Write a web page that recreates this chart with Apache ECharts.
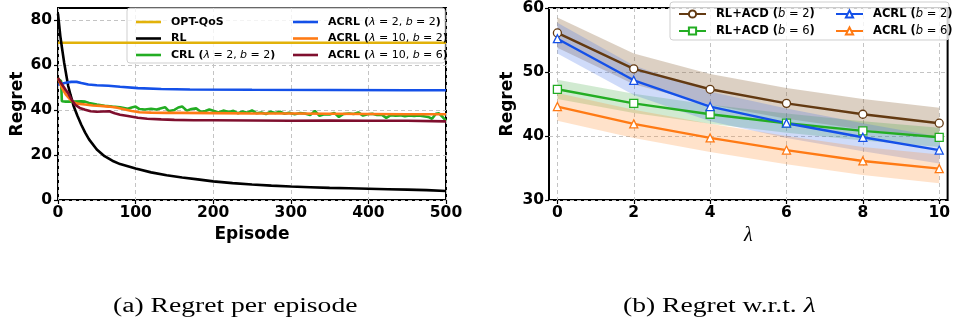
<!DOCTYPE html>
<html>
<head>
<meta charset="utf-8">
<script src="https://cdn.jsdelivr.net/npm/echarts@6/dist/echarts.min.js"></script>
<style>
  html, body { margin: 0; padding: 0; background: #fff; }
  #main { width: 953px; height: 326px; }
</style>
</head>
<body>
<div id="main"></div>
<script>
// ---- (a) regret per episode ----
const optEp = [0, 500]
const optVal = [70, 70]

const rlEp = [0, 3, 5, 8, 10, 13, 16, 20, 25, 30, 35, 40, 50, 60, 70, 80, 90, 100, 120, 140, 160, 180, 200, 225, 250, 275, 300, 325, 350, 375, 400, 425, 450, 475, 500]
const rlVal = [83, 73, 68, 61, 57, 51, 47, 42, 37.5, 33.5, 30, 27, 22.5, 19.5, 17.5, 16, 15, 14, 12.3, 11, 10, 9.2, 8.3, 7.5, 6.9, 6.4, 6.0, 5.7, 5.4, 5.2, 5.0, 4.8, 4.6, 4.4, 4.0]

const crlEp = [0, 4, 5, 10, 20, 30, 35, 40, 50, 60, 70, 80, 90, 95, 100, 105, 112, 120, 127, 133, 138, 143, 150, 155, 160, 166, 172, 178, 184, 190, 195, 200, 207, 213, 220, 226, 232, 238, 244, 250, 256, 262, 268, 274, 280, 286, 292, 298, 305, 312, 318, 325, 331, 337, 343, 350, 356, 362, 368, 375, 381, 387, 393, 399, 405, 411, 417, 423, 429, 435, 441, 447, 453, 459, 465, 471, 477, 482, 487, 491, 495, 500]
const crlVal = [54, 53, 44, 43.8, 43.8, 43.9, 43.8, 43.2, 42.5, 42.0, 41.6, 41.3, 40.6, 41.2, 41.6, 40.5, 40.3, 40.6, 40.3, 40.9, 41.3, 39.6, 40.1, 41.2, 41.6, 39.8, 40.5, 40.8, 39.3, 39.6, 40.3, 39.7, 39.0, 39.8, 39.2, 39.7, 38.6, 39.4, 38.9, 39.9, 38.6, 39.0, 38.3, 39.3, 38.7, 39.3, 38.4, 38.9, 38.2, 38.7, 38.5, 37.8, 39.7, 37.5, 38.2, 38.1, 38.8, 37.0, 38.3, 38.5, 38.3, 39.0, 37.6, 38.2, 38.4, 37.9, 38.0, 36.6, 37.8, 37.5, 37.7, 37.3, 37.6, 37.4, 37.6, 37.3, 37.0, 36.2, 38.4, 38.6, 37.2, 35.2]

const acrl22Ep = [0, 5, 10, 17, 24, 30, 39, 50, 65, 80, 103, 133, 170, 250, 350, 450, 500]
const acrl22Val = [51.3, 51.8, 52.2, 52.6, 52.6, 52.1, 51.4, 51.1, 50.9, 50.4, 49.8, 49.4, 49.2, 49.1, 49.0, 48.9, 48.9]

const acrl102Ep = [0, 5, 10, 15, 20, 25, 35, 45, 55, 65, 75, 85, 95, 105, 120, 140, 160, 200, 250, 300, 350, 400, 450, 500]
const acrl102Val = [54.3, 50, 47, 45, 43.5, 42.9, 42.5, 42.1, 41.9, 41.6, 41.2, 40.4, 39.6, 39.1, 38.9, 38.8, 38.8, 38.7, 38.5, 38.5, 38.4, 38.3, 38.2, 38.2]

const acrl106Ep = [0, 5, 10, 13, 17, 22, 28, 35, 42, 50, 58, 66, 73, 80, 90, 103, 115, 133, 150, 175, 200, 250, 300, 350, 400, 450, 500]
const acrl106Val = [54.3, 51.5, 49, 47.6, 45, 42.4, 41, 40.2, 39.5, 39.3, 39.4, 39.5, 38.6, 38.0, 37.4, 36.6, 36.2, 35.9, 35.7, 35.5, 35.5, 35.4, 35.3, 35.4, 35.3, 35.3, 35.0]

const yTicksA = [0, 20, 40, 60, 80]

// ---- (b) regret vs lambda ----
const lambdas = [0, 2, 4, 6, 8, 10]
const acd2Mean = [56.1, 50.5, 47.3, 45.1, 43.4, 42.0]
const acd2Lo = [53.8, 48.1, 44.9, 42.7, 41.0, 39.6]
const acd2Hi = [58.5, 52.9, 49.7, 47.5, 45.8, 44.4]
const acd6Mean = [47.3, 45.1, 43.4, 42.0, 40.8, 39.8]
const acd6Lo = [45.8, 43.6, 41.9, 40.5, 39.3, 38.3]
const acd6Hi = [48.8, 46.6, 44.9, 43.5, 42.3, 41.3]
const acrlB2Mean = [55.2, 48.7, 44.6, 42.0, 39.8, 37.8]
const acrlB2Lo = [52.9, 46.4, 42.3, 39.7, 37.6, 35.7]
const acrlB2Hi = [57.7, 51.0, 46.9, 44.3, 42.0, 39.9]
const acrlB6Mean = [44.6, 41.9, 39.7, 37.8, 36.1, 34.9]
const acrlB6Lo = [42.4, 39.7, 37.5, 35.6, 33.9, 32.6]
const acrlB6Hi = [46.7, 44.1, 41.9, 40.0, 38.3, 37.1]

const xTicksB = [0, 2, 4, 6, 8, 10]

const zip = (xs, ys) => xs.map((x, i) => [x, ys[i]])

const chart = echarts.init(document.getElementById('main'))

const tickFont = { fontFamily: 'DejaVu Sans', fontWeight: 'bold', fontSize: 15.5, color: '#000' }
const nameFont = { fontFamily: 'DejaVu Sans', fontWeight: 'bold', fontSize: 17, color: '#000' }
const gridLine = { show: true, lineStyle: { color: '#c4c4c4', type: [4, 3], width: 1 } }
const tick = { show: true, inside: false, length: 4, lineStyle: { color: '#000', width: 1.2 } }
const lineIcon = 'path://M0,0 L25,0 L25,2.6 L0,2.6 Z'

// legend label: bold name, italic symbols
function legendFmt(name) {
  const m = name.match(/^(\S+) \((.*)\)$/)
  if (!m) return '{b|' + name + '}'
  const parts = m[2].split(', ').map(p => {
    const [s, v] = p.split('=')
    return '{i|' + s + '}{n| = ' + v + '}'
  })
  return '{b|' + m[1] + ' (}' + parts.join('{n|, }') + '{b|)}'
}
function legendText(size) {
  return {
    color: '#000',
    lineHeight: 14,
    padding: [0, 0, 0, 5],
    rich: {
      b: { fontFamily: 'DejaVu Sans', fontWeight: 'bold', fontSize: size, color: '#000' },
      i: { fontFamily: 'DejaVu Sans', fontStyle: 'italic', fontSize: size, color: '#000' },
      n: { fontFamily: 'DejaVu Sans', fontSize: size, color: '#000' }
    }
  }
}
function legendBox(left, top, names, w, h, gap, size, icon) {
  const lg = {
    orient: 'vertical', left: left, top: top, data: names,
    itemWidth: w, itemHeight: h, itemGap: gap,
    formatter: legendFmt, textStyle: legendText(size), selectedMode: false
  }
  if (icon) lg.icon = icon
  return lg
}

function lineA(name, ep, val, color) {
  return {
    name: name, type: 'line', xAxisIndex: 0, yAxisIndex: 0,
    data: zip(ep, val), symbol: 'none', z: 3,
    lineStyle: { color: color, width: 2.6 }, itemStyle: { color: color }
  }
}
function lineB(name, mean, color, sym) {
  return {
    name: name, type: 'line', xAxisIndex: 1, yAxisIndex: 1,
    data: zip(lambdas, mean), symbol: sym, symbolSize: 8, z: 4,
    lineStyle: { color: color, width: 2.4 },
    itemStyle: { color: '#fff', borderColor: color, borderWidth: 1.3 }
  }
}
// shaded spread drawn as one polygon through the axis scales
function band(lo, hi, color, op) {
  return {
    type: 'custom', xAxisIndex: 1, yAxisIndex: 1, z: 1, silent: true, clip: true,
    data: lambdas.map((x, i) => [x, lo[i], hi[i]]),
    encode: { x: 0, y: [1, 2] },
    renderItem: function (params, api) {
      if (params.dataIndex !== 0) return null
      const top = lambdas.map((x, i) => api.coord([x, hi[i]]))
      const bot = lambdas.map((x, i) => api.coord([x, lo[i]])).reverse()
      return {
        type: 'polygon',
        shape: { points: top.concat(bot) },
        style: { fill: color, opacity: op }
      }
    }
  }
}

const cGold = '#e2b20a', cBlack = '#000', cGreen = '#23ad23', cBlue = '#1450e8', cOrange = '#ff7a14', cMaroon = '#7f0f2e'
const cBrown = '#633a12'
const capFont = '20px "Liberation Serif"'

chart.setOption({
  animation: false,
  backgroundColor: '#fff',
  grid: [
    { left: 58, top: 8, width: 388, height: 192, show: true, borderColor: '#000', borderWidth: 2, containLabel: false },
    { left: 549, top: 2, width: 401, height: 198, show: true, borderColor: '#000', borderWidth: 2, containLabel: false }
  ],
  xAxis: [
    {
      gridIndex: 0, type: 'value', min: 0, max: 500, interval: 100,
      name: 'Episode', nameLocation: 'middle', nameGap: 24, nameTextStyle: nameFont,
      axisLine: { show: false, onZero: false }, axisTick: tick,
      axisLabel: Object.assign({ margin: 5 }, tickFont), splitLine: gridLine
    },
    {
      gridIndex: 1, type: 'value', min: -0.22, max: 10.22,
      name: 'λ', nameLocation: 'middle', nameGap: 24,
      nameTextStyle: { fontFamily: 'Liberation Serif', fontStyle: 'italic', fontSize: 20, color: '#000' },
      axisLine: { show: false, onZero: false },
      axisTick: Object.assign({ customValues: xTicksB }, tick),
      axisLabel: Object.assign({ margin: 5, customValues: xTicksB }, tickFont),
      splitLine: gridLine
    }
  ],
  yAxis: [
    {
      gridIndex: 0, type: 'value', min: 0, max: 85.5,
      name: 'Regret', nameLocation: 'middle', nameGap: 31, nameTextStyle: nameFont,
      axisLine: { show: false, onZero: false },
      axisTick: Object.assign({ customValues: yTicksA }, tick),
      axisLabel: Object.assign({ margin: 6, customValues: yTicksA }, tickFont),
      splitLine: gridLine
    },
    {
      gridIndex: 1, type: 'value', min: 30, max: 60, interval: 10,
      name: 'Regret', nameLocation: 'middle', nameGap: 33, nameTextStyle: nameFont,
      axisLine: { show: false, onZero: false }, axisTick: tick,
      axisLabel: Object.assign({ margin: 5 }, tickFont), splitLine: gridLine
    }
  ],
  legend: [
    legendBox(131, 10, ['OPT-QoS', 'RL', 'CRL (λ=2, b=2)'], 25, 14, 2.5, 11, lineIcon),
    legendBox(288, 10, ['ACRL (λ=2, b=2)', 'ACRL (λ=10, b=2)', 'ACRL (λ=10, b=6)'], 25, 14, 2.5, 11, lineIcon),
    legendBox(673, 2, ['RL+ACD (b=2)', 'RL+ACD (b=6)'], 27, 9, 3, 11.5),
    legendBox(830, 2, ['ACRL (b=2)', 'ACRL (b=6)'], 27, 9, 3, 11.5)
  ],
  graphic: [
    {
      type: 'rect', z: 3, shape: { x: 127, y: 8, width: 318, height: 55, r: 3 },
      style: { fill: 'rgba(255,255,255,0.8)', stroke: '#cfcfcf', lineWidth: 1 }
    },
    {
      type: 'rect', z: 3, shape: { x: 670, y: 2, width: 279, height: 38, r: 3 },
      style: { fill: 'rgba(255,255,255,0.8)', stroke: '#cfcfcf', lineWidth: 1 }
    },
    {
      type: 'text', x: 113, y: 307, scaleX: 1.38,
      style: { text: '(a) Regret per episode', fill: '#000', font: capFont, verticalAlign: 'middle' }
    },
    {
      type: 'text', x: 623, y: 307, scaleX: 1.38,
      style: {
        text: '(b) Regret w.r.t. {l|λ}', fill: '#000', font: capFont, verticalAlign: 'middle',
        rich: { l: { fontFamily: 'Liberation Serif', fontStyle: 'italic', fontSize: 20, fill: '#000' } }
      }
    }
  ],
  series: [
    lineA('OPT-QoS', optEp, optVal, cGold),
    lineA('RL', rlEp, rlVal, cBlack),
    lineA('CRL (λ=2, b=2)', crlEp, crlVal, cGreen),
    lineA('ACRL (λ=2, b=2)', acrl22Ep, acrl22Val, cBlue),
    lineA('ACRL (λ=10, b=2)', acrl102Ep, acrl102Val, cOrange),
    lineA('ACRL (λ=10, b=6)', acrl106Ep, acrl106Val, cMaroon),
    band(acd2Lo, acd2Hi, '#8c6239', 0.3),
    band(acd6Lo, acd6Hi, '#2ca02c', 0.22),
    band(acrlB2Lo, acrlB2Hi, '#3f6fe8', 0.25),
    band(acrlB6Lo, acrlB6Hi, '#ff8a2a', 0.25),
    lineB('RL+ACD (b=2)', acd2Mean, cBrown, 'circle'),
    lineB('RL+ACD (b=6)', acd6Mean, cGreen, 'rect'),
    lineB('ACRL (b=2)', acrlB2Mean, cBlue, 'triangle'),
    lineB('ACRL (b=6)', acrlB6Mean, cOrange, 'triangle')
  ]
})
</script>
</body>
</html>
